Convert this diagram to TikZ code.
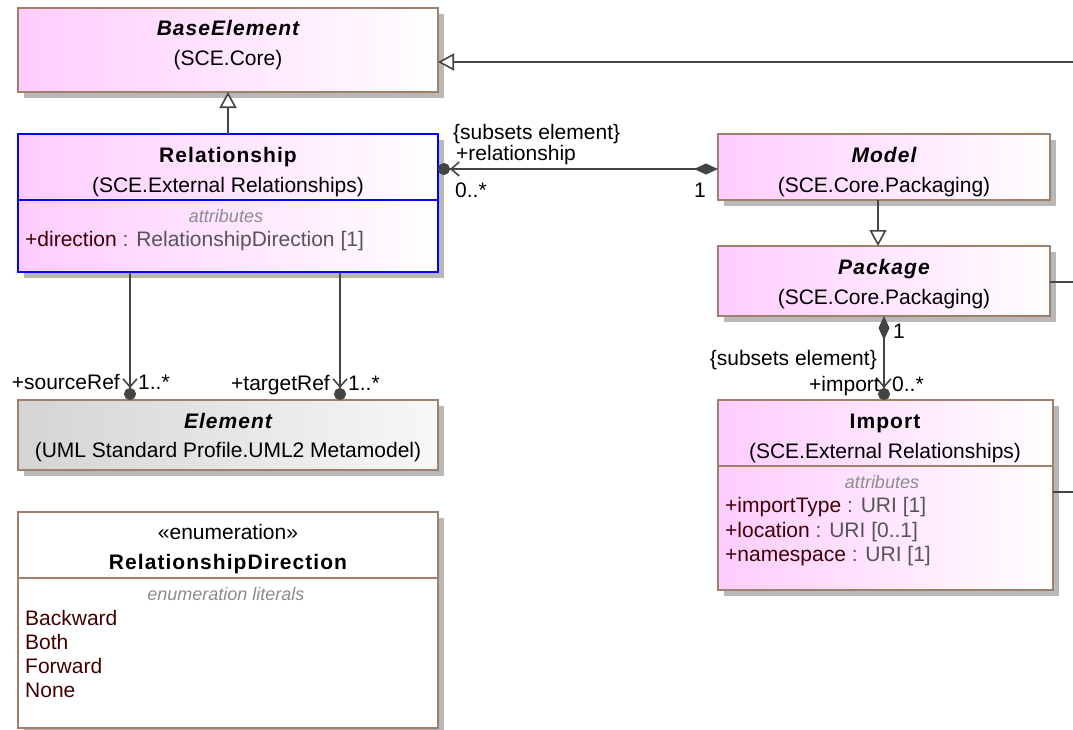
\documentclass[tikz,border=0pt]{standalone}
\usepackage{fontspec}
\setmainfont{Liberation Sans}[BoldFeatures={LetterSpace=5}, BoldItalicFeatures={LetterSpace=5}]
\usetikzlibrary{positioning,arrows.meta,shadows}

\definecolor{classpink}{RGB}{255,204,255}
\definecolor{classgrey}{RGB}{212,212,212}
\definecolor{classedge}{RGB}{160,128,106}
\definecolor{linkgrey}{RGB}{68,68,68}
\definecolor{attrname}{RGB}{64,0,0}
\definecolor{attrtype}{RGB}{85,85,85}
\definecolor{comptitle}{RGB}{140,140,140}

\newcommand{\umltext}{\fontsize{21}{24}\selectfont}
\newcommand{\umlsmall}{\fontsize{18}{22}\selectfont}

\tikzset{
  boxbase/.style={draw=classedge, line width=1.4pt, anchor=north west, inner sep=0pt, outer sep=0pt,
    drop shadow={shadow xshift=6pt, shadow yshift=-6pt, fill=black!28, opacity=1}},
  classbox/.style={boxbase, left color=classpink, right color=white},
  greybox/.style={boxbase, left color=classgrey, right color=black!3},
  enumbox/.style={boxbase, fill=white},
  divider/.style={draw=classedge, line width=1.4pt},
  classname/.style={font=\umltext\bfseries, anchor=base, inner sep=0pt},
  abstractname/.style={classname, font=\umltext\bfseries\itshape},
  pkgname/.style={font=\umltext, anchor=base, inner sep=0pt},
  compname/.style={font=\umlsmall\itshape, text=comptitle, anchor=base, inner sep=0pt},
  member/.style={font=\umltext, anchor=base west, inner sep=0pt},
  endlabel/.style={font=\umltext, inner sep=0pt},
  link/.style={draw=linkgrey, line width=1.6pt},
  generalization/.style={link, -{Triangle[open, length=16pt, width=17pt, fill=white]}},
  navend/.style={link, -{Straight Barb[length=8pt, width=14pt] Circle[length=12pt]}},
  composite/.style={link, {Diamond[length=24pt, width=11pt]}-{Straight Barb[length=8pt, width=14pt] Circle[length=12pt]}}
}

\newcommand{\attr}[2]{\textcolor{attrname}{#1} \textcolor{attrtype}{: #2}}

\begin{document}
\begin{tikzpicture}[x=1pt, y=-1pt]
        \useasboundingbox (0,0) rectangle (1073,729);

        % Base element
        \node[classbox, minimum width=420pt, minimum height=84pt] (base) at (18,8) {};
        \node[abstractname] (base-name) at (228,35) {BaseElement};
        \node[pkgname] (base-pkg) at (228,65) {(SCE.Core)};

        % Relationship
        \node[classbox, draw=blue, minimum width=420pt, minimum height=138pt] (rel) at (18,134) {};
        \draw[divider, draw=blue] (rel.west |- 0,200) -- (rel.east |- 0,200);
        \node[classname] (rel-name) at (228,162) {Relationship};
        \node[pkgname] (rel-pkg) at (228,192) {(SCE.External Relationships)};
        \node[compname] (rel-attrs) at (226,222) {attributes};
        \node[member] (rel-direction) at (25,246) {\attr{+direction}{RelationshipDirection [1]}};

        % Element
        \node[greybox, minimum width=420pt, minimum height=70pt] (elem) at (18,400) {};
        \node[abstractname] (elem-name) at (228,428) {Element};
        \node[pkgname] (elem-pkg) at (228,457.5) {(UML Standard Profile.UML2 Metamodel)};

        % Enumeration
        \node[enumbox, minimum width=420pt, minimum height=216pt] (dir) at (18,512) {};
        \draw[divider] (dir.west |- 0,578) -- (dir.east |- 0,578);
        \node[pkgname] (dir-stereo) at (228,539) {«enumeration»};
        \node[classname] (dir-name) at (228,569) {RelationshipDirection};
        \node[compname] (dir-literals) at (226,600.5) {enumeration literals};
        \node[member, text=attrname] (dir-backward) at (25,625) {Backward};
        \node[member, text=attrname] (dir-both) at (25,649) {Both};
        \node[member, text=attrname] (dir-forward) at (25,673) {Forward};
        \node[member, text=attrname] (dir-none) at (25,697) {None};

        % Model
        \node[classbox, minimum width=332pt, minimum height=66pt] (model) at (718,134) {};
        \node[abstractname] (model-name) at (884,162) {Model};
        \node[pkgname] (model-pkg) at (884,192) {(SCE.Core.Packaging)};

        % Package
        \node[classbox, minimum width=332pt, minimum height=70pt] (pkg) at (718,246) {};
        \node[abstractname] (pkg-name) at (884,274) {Package};
        \node[pkgname] (pkg-pkg) at (884,304) {(SCE.Core.Packaging)};

        % Import
        \node[classbox, minimum width=335pt, minimum height=190pt] (import) at (718,400) {};
        \draw[divider] (import.west |- 0,466) -- (import.east |- 0,466);
        \node[classname] (import-name) at (885,428) {Import};
        \node[pkgname] (import-pkg) at (885,458) {(SCE.External Relationships)};
        \node[compname] (import-attrs) at (882,488) {attributes};
        \node[member] (import-type) at (725,512.5) {\attr{+importType}{URI [1]}};
        \node[member] (import-location) at (725,537) {\attr{+location}{URI [0..1]}};
        \node[member] (import-namespace) at (725,561) {\attr{+namespace}{URI [1]}};

        % Connectors
        \coordinate (base-link) at (1073,62);
        \coordinate (pkg-link) at (1073,282);
        \coordinate (import-link) at (1073,492);
        \draw[generalization] (rel.north) -- (base.south);
        \draw[generalization] (base-link) -- (base-link -| base.east);
        \draw[generalization] ([xshift=-6pt]model.south) -- ([xshift=-6pt]model.south |- pkg.north);
        \draw[composite] ([yshift=-2pt]model.west) -- ([yshift=-2pt]model.west -| rel.east);
        \draw[composite] (pkg.south) -- (pkg.south |- import.north);
        \draw[navend] ([xshift=-98pt]rel.south) -- ([xshift=-98pt]rel.south |- elem.north);
        \draw[navend] ([xshift=112pt]rel.south) -- ([xshift=112pt]rel.south |- elem.north);
        \draw[link] (pkg-link -| pkg.east) -- (pkg-link);
        \draw[link] (import-link -| import.east) -- (import-link);

        % End labels
        \node[endlabel, anchor=base west] (rel-subsets) at (453,139.5) {\{subsets element\}};
        \node[endlabel, anchor=base west] (rel-role) at (456,160.5) {+relationship};
        \node[endlabel, anchor=base west] (rel-mult) at (455,197) {0..*};
        \node[endlabel, anchor=base east] (model-mult) at (706,197) {1};
        \node[endlabel, anchor=base west] (pkg-mult) at (893,338) {1};
        \node[endlabel, anchor=base east] (import-subsets) at (877,365) {\{subsets element\}};
        \node[endlabel, anchor=base east] (import-role) at (880,391.5) {+import};
        \node[endlabel, anchor=base west] (import-mult) at (892,391.5) {0..*};
        \node[endlabel, anchor=base east] (source-role) at (120,389) {+sourceRef};
        \node[endlabel, anchor=base west] (source-mult) at (138,389) {1..*};
        \node[endlabel, anchor=base east] (target-role) at (330,390) {+targetRef};
        \node[endlabel, anchor=base west] (target-mult) at (348,390) {1..*};
    \end{tikzpicture}
\end{document}
